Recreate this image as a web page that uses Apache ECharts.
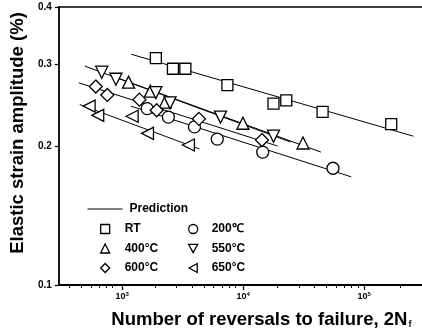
<!DOCTYPE html>
<html><head><meta charset="utf-8">
<script src="https://cdn.jsdelivr.net/npm/echarts@6/dist/echarts.min.js"></script>
<style>html,body{margin:0;padding:0;background:#fff}#c{width:422px;height:335px}</style>
</head><body><div id="c"></div>
<script>
// ---- data ----
const seriesNames = ['RT', '200℃', '400°C', '550°C', '600°C', '650°C'];
const rtN = [1900, 2630, 3330, 7410, 17800, 22700, 45300, 167000];
const rtE = [0.310, 0.294, 0.294, 0.271, 0.247, 0.251, 0.237, 0.223];
const t200N = [1610, 2410, 3960, 6110, 14500, 55200];
const t200E = [0.241, 0.231, 0.220, 0.207, 0.194, 0.179];
const t400N = [1130, 1710, 2270, 9950, 31200];
const t400E = [0.275, 0.263, 0.249, 0.224, 0.203];
const t550N = [679, 889, 1900, 2490, 6500, 17800];
const t550E = [0.289, 0.279, 0.261, 0.248, 0.231, 0.210];
const t600N = [606, 755, 1390, 1930, 4310, 14300];
const t600E = [0.269, 0.258, 0.252, 0.239, 0.229, 0.206];
const t650N = [534, 629, 1210, 1620, 3530];
const t650E = [0.244, 0.233, 0.232, 0.213, 0.201];
// prediction lines (end points)
const predRtN = [1190, 255000],  predRtE = [0.316, 0.210];
const pred200N = [1180, 78000],  pred200E = [0.244, 0.1715];
const pred400N = [845, 43900],   pred400E = [0.283, 0.194];
const pred550N = [491, 24600],   pred550E = [0.298, 0.204];
const pred600N = [439, 19200],   pred600E = [0.274, 0.200];
const pred650N = [447, 4360],    pred650E = [0.246, 0.197];
// axes
const xMin = 300, xMax = 300000;
const yMin = 0.1, yMax = 0.4;
const xMajorTicks = [1000, 10000, 100000];
const xMinorTicks = [400,500,600,700,800,900,2000,3000,4000,5000,6000,7000,8000,9000,
  20000,30000,40000,50000,60000,70000,80000,90000,200000];
const yTicks = [0.1, 0.2, 0.3, 0.4];

const zip = (a, b) => a.map((v, i) => [v, b[i]]);
const FONT = 'Liberation Sans, Arial, sans-serif';
const sym = {
  'RT': {symbol: 'rect', rot: 0, size: 11, icon: 'rect'},
  '200℃': {symbol: 'circle', rot: 0, size: 12, icon: 'circle'},
  '400°C': {symbol: 'triangle', rot: 0, size: 12, icon: 'triangle'},
  '550°C': {symbol: 'triangle', rot: 180, size: 12, icon: 'path://M0,0L10,0L5,9Z'},
  '600°C': {symbol: 'diamond', rot: 0, size: 13, icon: 'diamond'},
  '650°C': {symbol: 'triangle', rot: 90, size: 12, icon: 'path://M9,0L9,10L0,5Z'}
};
const pts = [zip(rtN, rtE), zip(t200N, t200E), zip(t400N, t400E), zip(t550N, t550E), zip(t600N, t600E), zip(t650N, t650E)];
const lines = [zip(predRtN, predRtE), zip(pred200N, pred200E), zip(pred400N, pred400E), zip(pred550N, pred550E), zip(pred600N, pred600E), zip(pred650N, pred650E)];

const series = [];
lines.forEach(d => series.push({
  name: 'Prediction', type: 'line', data: d, symbol: 'none', showSymbol: false,
  lineStyle: {color: '#000', width: 1}, itemStyle: {color: '#000'}, z: 2, silent: true
}));
seriesNames.forEach((n, i) => series.push({
  name: n, type: 'scatter', data: pts[i], symbol: sym[n].symbol, symbolRotate: sym[n].rot,
  symbolSize: sym[n].size, z: 3,
  itemStyle: {color: '#fff', borderColor: '#000', borderWidth: 1.3, opacity: 1}
}));

const legendCommon = {
  orient: 'vertical', itemWidth: 9, itemHeight: 9, itemGap: 7.5,
  itemStyle: {color: '#fff', borderColor: '#000', borderWidth: 1.3},
  textStyle: {fontFamily: FONT, fontSize: 12, fontWeight: 'bold', color: '#000',
    rich: {sp: {width: 10}, sp2: {width: 9}}}
};
const legItem = n => ({name: n, icon: sym[n].icon});

const chart = echarts.init(document.getElementById('c'), null, {renderer: 'canvas'});
chart.setOption({
  backgroundColor: '#fff',
  animation: false,
  grid: [
    {left: 54, top: 7, width: 370, height: 278},
    {left: 54, top: 7, width: 370, height: 278}
  ],
  xAxis: [
    {type: 'log', logBase: 10, min: xMin, max: xMax, gridIndex: 0, position: 'bottom',
      name: 'Number of reversals to failure, 2N{s|f}', nameLocation: 'middle', nameGap: 25,
      nameTextStyle: {fontFamily: FONT, fontSize: 18.5, fontWeight: 'bold', color: '#000', padding: [0, 0, 0, 42],
        rich: {s: {fontFamily: FONT, fontSize: 9, fontWeight: 'bold', color: '#000', padding: [10, 0, 0, 1]}}},
      axisLine: {show: true, lineStyle: {color: '#000', width: 1.8}},
      axisTick: {show: true, inside: false, length: 5, customValues: xMajorTicks, lineStyle: {color: '#000', width: 1.2}},
      axisLabel: {show: true, customValues: xMajorTicks, margin: 6,
        formatter: v => '10{sup|' + Math.round(Math.log10(v)) + '}',
        fontFamily: FONT, fontSize: 9, fontWeight: 'bold', color: '#000',
        rich: {sup: {fontFamily: FONT, fontSize: 6, fontWeight: 'bold', color: '#000', padding: [0, 0, 5, 0]}}},
      splitLine: {show: false}, minorTick: {show: false}},
    {type: 'log', logBase: 10, min: xMin, max: xMax, gridIndex: 0, position: 'top',
      axisLine: {show: true, lineStyle: {color: '#000', width: 1.6}},
      axisTick: {show: false}, axisLabel: {show: false}, splitLine: {show: false}},
    {type: 'log', logBase: 10, min: xMin, max: xMax, gridIndex: 1, position: 'bottom',
      axisLine: {show: false},
      axisTick: {show: true, inside: false, length: 3, customValues: xMinorTicks, lineStyle: {color: '#000', width: 1}},
      axisLabel: {show: false}, splitLine: {show: false}}
  ],
  yAxis: [
    {type: 'log', logBase: 10, min: yMin, max: yMax, gridIndex: 0, position: 'left',
      name: 'Elastic strain amplitude (%)', nameLocation: 'middle', nameGap: 28,
      nameTextStyle: {fontFamily: FONT, fontSize: 18.5, fontWeight: 'bold', color: '#000', padding: [0, 0, 0, 26]},
      axisLine: {show: true, lineStyle: {color: '#000', width: 1.8}},
      axisTick: {show: true, inside: false, length: 4, customValues: yTicks, lineStyle: {color: '#000', width: 1.2}},
      axisLabel: {show: true, customValues: yTicks, margin: 7, formatter: v => Number(v).toFixed(1),
        fontFamily: FONT, fontSize: 10, fontWeight: 'bold', color: '#000'},
      splitLine: {show: false}},
    {type: 'value', gridIndex: 1, show: false, min: 0, max: 1}
  ],
  legend: [
    {data: ['Prediction'], left: 82, top: 198, itemWidth: 35, itemHeight: 10,
      lineStyle: {color: '#000', width: 1}, itemStyle: {opacity: 0},
      formatter: n => '{sp|}' + n,
      textStyle: {fontFamily: FONT, fontSize: 12, fontWeight: 'bold', color: '#000', rich: {sp: {width: 2}}}},
    Object.assign({}, legendCommon, {data: ['RT', '400°C', '600°C'].map(legItem), left: 95, top: 218,
      formatter: n => '{sp|}' + n}),
    Object.assign({}, legendCommon, {data: ['200℃', '550°C', '650°C'].map(legItem), left: 183, top: 218,
      formatter: n => '{sp2|}' + n})
  ],
  series: series
});
</script></body></html>
